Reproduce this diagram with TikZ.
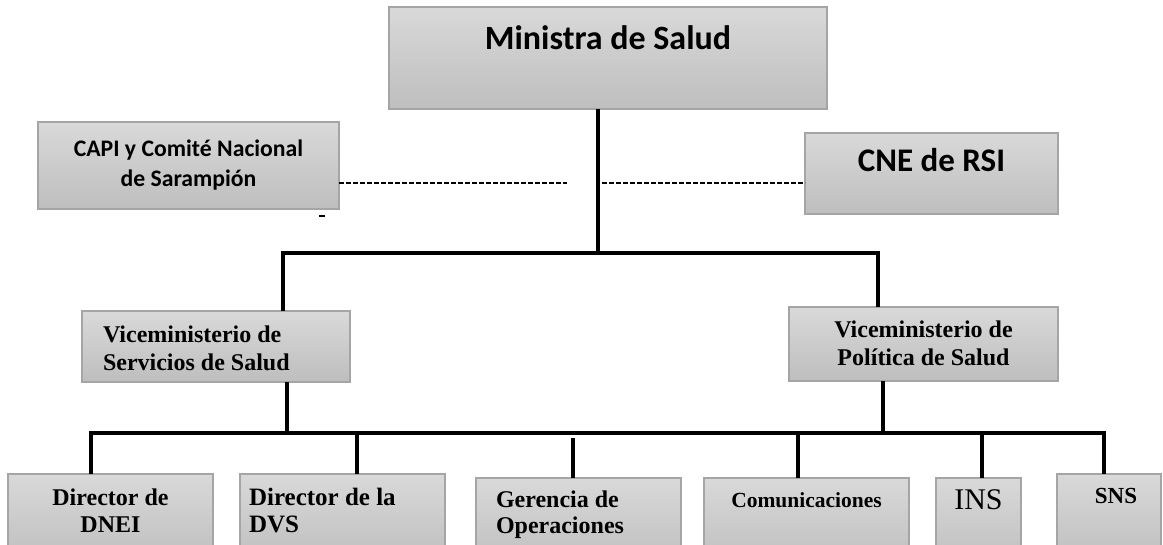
\documentclass[tikz,border=0pt]{standalone}
\usepackage{fontspec}
\newfontfamily\carl{Carlito}
\newfontfamily\tms{Liberation Serif}
\definecolor{boxtop}{HTML}{D9D9D9}
\definecolor{boxbot}{HTML}{BEBEBE}
\definecolor{boxline}{HTML}{A5A5A5}
% #1 width, #2 height, #3 font, #4 alignment, #5 first baseline offset, #6 text
\newcommand{\bxc}[6]{\parbox[t][#2][t]{#1}{#3#4\rule{0pt}{#5}#6}}
\tikzset{
  orgbox/.style={draw=boxline, line width=1.2pt, top color=boxtop, bottom color=boxbot,
    inner sep=0pt, outer sep=0pt, anchor=north west},
  link/.style={line width=3.2pt, black},
  dotlink/.style={line width=1.1pt, black, dash pattern=on 5pt off 2pt},
}
\begin{document}
\begin{tikzpicture}[x=1pt,y=-1pt]
\useasboundingbox (0,0) rectangle (1163,544);
\clip (0,0) rectangle (1163,544);

% boxes
\node[orgbox] (min) at (389,7) {\bxc{438pt}{102pt}{\carl\bfseries\fontsize{34pt}{40pt}\selectfont}{\centering}{42pt}{Ministra de Salud}};
\node[orgbox] (capi) at (38,122) {\bxc{301pt}{87pt}{\carl\bfseries\fontsize{23.7pt}{30pt}\selectfont}{\centering}{34pt}{CAPI y Comité Nacional\\de Sarampión}};
\node[orgbox] (cne) at (805,133) {\bxc{253pt}{81pt}{\carl\bfseries\fontsize{33pt}{38pt}\selectfont}{\centering}{38pt}{CNE de RSI}};
\node[orgbox] (vs) at (82,311) {\bxc{268pt}{71pt}{\tms\bfseries\fontsize{24pt}{28pt}\selectfont}{\raggedright\leftskip=21pt\relax}{31pt}{Viceministerio de\\Servicios de Salud}};
\node[orgbox] (vp) at (789,307) {\bxc{269pt}{74pt}{\tms\bfseries\fontsize{24pt}{28pt}\selectfont}{\centering}{30pt}{Viceministerio de\\Política de Salud}};
\node[orgbox] (dnei) at (8,474) {\bxc{205pt}{90pt}{\tms\bfseries\fontsize{24pt}{27pt}\selectfont}{\centering}{31pt}{Director de\\DNEI}};
\node[orgbox] (dvs) at (240,474) {\bxc{205pt}{90pt}{\tms\bfseries\fontsize{25pt}{27pt}\selectfont}{\raggedright\leftskip=9pt\relax}{31pt}{Director de la\\DVS}};
\node[orgbox] (ger) at (476,478) {\bxc{205pt}{90pt}{\tms\bfseries\fontsize{24pt}{26pt}\selectfont}{\raggedright\leftskip=20pt\relax}{29pt}{Gerencia de\\Operaciones}};
\node[orgbox] (com) at (704,478) {\bxc{205pt}{90pt}{\tms\bfseries\fontsize{21.5pt}{26pt}\selectfont}{\centering}{29pt}{Comunicaciones}};
\node[orgbox] (ins) at (936,478) {\bxc{85pt}{90pt}{\tms\fontsize{30pt}{34pt}\selectfont}{\centering}{31pt}{INS}};
\node[orgbox] (sns) at (1057,474) {\bxc{104pt}{90pt}{\tms\bfseries\fontsize{23pt}{27pt}\selectfont}{\centering\leftskip=14pt plus 1fil\relax}{29pt}{SNS}};

% junction coordinates
\coordinate (jt) at (598,253);
\coordinate (jl) at (283,253);
\coordinate (jr) at (878,253);
\coordinate (dl) at (567,183);
\coordinate (dr) at (602,183);
\coordinate (jb1) at (287,433);
\coordinate (jb2) at (883,433);
\coordinate (bl) at (91,433);
\coordinate (br) at (1104,433);
\coordinate (d2) at (357,433);
\coordinate (d3) at (573,438);
\coordinate (d4) at (798,433);
\coordinate (d5) at (982,433);
\coordinate (sd) at (322,216);

% upper connectors
\draw[link] (jt |- min.south) -- (jt);
\draw[link] (jl |- vs.north) -- (jl) -- (jr) -- (jr |- vp.north);
\draw[dotlink] (dl -| capi.east) -- (dl);
\draw[dotlink] (dr) -- (dr -| cne.west);
\draw[line width=1.8pt] ([xshift=-3pt]sd) -- ([xshift=3pt]sd);

% lower connectors
\draw[link] (jb1 |- vs.south) -- (jb1);
\draw[link] (jb2 |- vp.south) -- (jb2);
\draw[link] (bl |- dnei.north) -- (bl) -- (br) -- (br |- sns.north);
\draw[link] (d2) -- (d2 |- dvs.north);
\draw[link] (d3) -- (d3 |- ger.north);
\draw[link] (d4) -- (d4 |- com.north);
\draw[link] (d5) -- (d5 |- ins.north);
\end{tikzpicture}
\end{document}
